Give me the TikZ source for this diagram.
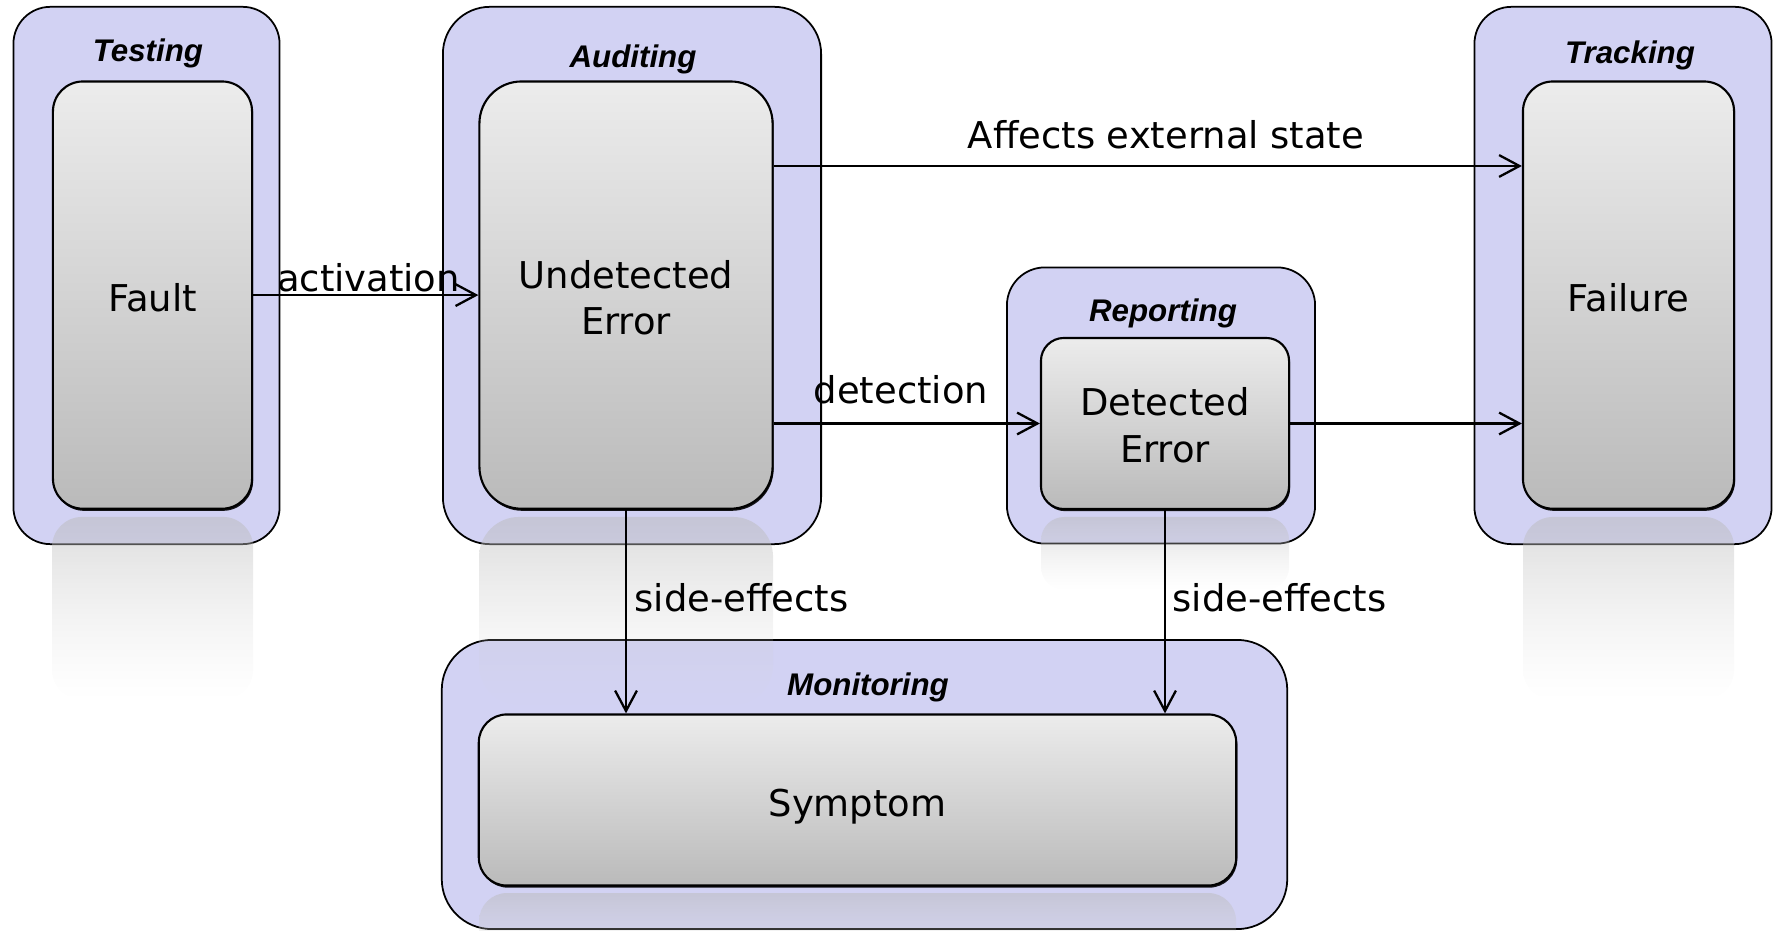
\documentclass[tikz,border=0pt]{standalone}
\usepackage{fontspec}
\setmainfont{DejaVu Sans}
\newfontfamily\titlefont{Liberation Sans}
\usetikzlibrary{arrows.meta,fadings,shadows}

\definecolor{laneblue}{RGB}{210,210,243}
\definecolor{boxtop}{RGB}{236,236,236}
\definecolor{boxbot}{RGB}{186,186,186}

% mirrored reflection under each state box: half opaque at the top, gone at the bottom
\tikzfading[name=mirrorfade, top color=transparent!50, bottom color=transparent!100]

% lower a line of state text without changing the size of its box
\newcommand{\lowered}[2]{\raisebox{-#1}[\height][\depth]{#2}}

\begin{document}
\begin{tikzpicture}[x=0.01cm, y=-0.01cm,
  lane/.style={draw=black, line width=0.5pt, fill=laneblue, inner sep=0pt},
  state/.style={draw=black, line width=0.6pt, top color=boxtop, bottom color=boxbot,
    inner sep=0pt, align=center, font=\fontsize{10.5}{13.2}\selectfont,
    drop shadow={shadow xshift=0.3pt, shadow yshift=-0.6pt, opacity=0.9, fill=black}},
  lanetitle/.style={font=\titlefont\bfseries\itshape\fontsize{8.9}{10}\selectfont, inner sep=0pt},
  flow/.style={-{Straight Barb[length=5.8pt,width=6.2pt]}, line width=0.65pt},
  flowlabel/.style={font=\fontsize{10.5}{13}\selectfont, inner sep=0pt},
  mirror/.style={path fading=mirrorfade, top color=boxbot, bottom color=boxtop!60!boxbot}
]
\useasboundingbox (0,0) rectangle (1773,931);

% swimlanes
\node[lane, rounded corners=0.37cm, minimum width=2.66cm, minimum height=5.37cm] (testing) at (146.5,275.5) {};
\node[lane, rounded corners=0.47cm, minimum width=3.78cm, minimum height=5.37cm] (auditing) at (632,275.5) {};
\node[lane, rounded corners=0.38cm, minimum width=3.08cm, minimum height=2.76cm] (reporting) at (1161,405.5) {};
\node[lane, rounded corners=0.37cm, minimum width=2.97cm, minimum height=5.37cm] (tracking) at (1623,275.5) {};
\node[lane, rounded corners=0.50cm, minimum width=8.45cm, minimum height=2.89cm] (monitoring) at (864.5,784.5) {};

% states
\node[state, rounded corners=0.30cm, minimum width=1.99cm, minimum height=4.27cm] (fault) at (152.5,295.1) {\lowered{0.7pt}{Fault}};
\node[state, rounded corners=0.42cm, minimum width=2.93cm, minimum height=4.27cm] (undet) at (626,295.1) {\lowered{0.7pt}{Undetected}\\\lowered{0.7pt}{Error}};
\node[state, rounded corners=0.23cm, minimum width=2.48cm, minimum height=1.71cm] (det) at (1165,423.5) {\lowered{0.5pt}{Detected}\\\lowered{0.5pt}{Error}};
\node[state, rounded corners=0.30cm, minimum width=2.11cm, minimum height=4.27cm] (fail) at (1628.5,295.1) {\lowered{0.7pt}{Failure}};
\node[state, rounded corners=0.28cm, minimum width=7.57cm, minimum height=1.71cm] (symp) at (857.5,800) {\lowered{1.9pt}{Symptom}};

% reflections
\shade[mirror, rounded corners=0.30cm] (52,517) rectangle (253,700);
\shade[mirror, rounded corners=0.40cm] (479,517) rectangle (773,705);
\shade[mirror, rounded corners=0.23cm] (1041,517) rectangle (1289,590);
\shade[mirror, rounded corners=0.30cm] (1523,517) rectangle (1734,700);
\shade[mirror, rounded corners=0.28cm] (479,893) rectangle (1236,965);

% lane titles
\node[lanetitle] (ttest) at (148,53.3) {Testing};
\node[lanetitle] (taud) at (633,59.3) {Auditing};
\node[lanetitle] (trep) at (1163,313.5) {Reporting};
\node[lanetitle] (ttrack) at (1630,55.8) {Tracking};
\node[lanetitle] (tmon) at (868,687.3) {Monitoring};

% transitions
\draw[flow] (fault.east) -- (undet.west);
\draw[flow] (undet.east |- 0,166) -- (fail.west |- 0,166);
\draw[flow] (undet.east |- det.west) -- (det.west);
\draw[flow] (det.east) -- (fail.west |- det.east);
\draw[flow] (undet.south) -- (undet.south |- symp.north);
\draw[flow] (det.south) -- (det.south |- symp.north);

% transition labels
\node[flowlabel, anchor=base] (lblact) at (368.5,292) {activation};
\node[flowlabel, anchor=base] (lblaff) at (1166,149) {Affects external state};
\node[flowlabel, anchor=base] (lbldet) at (901,404) {detection};
\node[flowlabel, anchor=base west] (lblse1) at (634,611) {side-effects};
\node[flowlabel, anchor=base west] (lblse2) at (1172,611) {side-effects};
\end{tikzpicture}
\end{document}
